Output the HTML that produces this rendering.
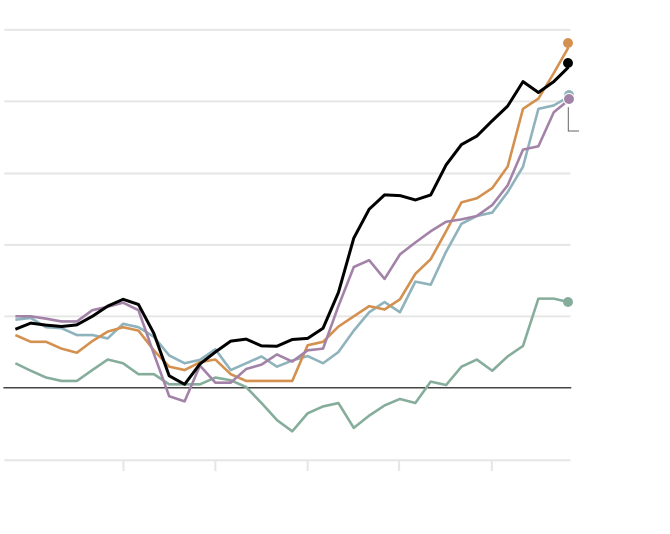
<!DOCTYPE html><html><head><style>html,body{margin:0;padding:0;background:#fff;width:670px;height:534px;overflow:hidden}</style></head><body>
<svg width="670" height="534" viewBox="0 0 1568 1570" preserveAspectRatio="none" xmlns="http://www.w3.org/2000/svg">
<g stroke="#e6e6e6" stroke-width="2" fill="none">
<line x1="10" x2="1335" y1="88" y2="88" vector-effect="non-scaling-stroke"/>
<line x1="10" x2="1335" y1="298" y2="298" vector-effect="non-scaling-stroke"/>
<line x1="10" x2="1335" y1="510" y2="510" vector-effect="non-scaling-stroke"/>
<line x1="10" x2="1335" y1="720" y2="720" vector-effect="non-scaling-stroke"/>
<line x1="10" x2="1335" y1="930" y2="930" vector-effect="non-scaling-stroke"/>
<line x1="10" x2="1335" y1="1353" y2="1353" vector-effect="non-scaling-stroke"/>
<line x1="289" x2="289" y1="1353" y2="1385" vector-effect="non-scaling-stroke"/>
<line x1="504" x2="504" y1="1353" y2="1385" vector-effect="non-scaling-stroke"/>
<line x1="720" x2="720" y1="1353" y2="1385" vector-effect="non-scaling-stroke"/>
<line x1="934" x2="934" y1="1353" y2="1385" vector-effect="non-scaling-stroke"/>
<line x1="1151" x2="1151" y1="1353" y2="1385" vector-effect="non-scaling-stroke"/>
</g>
<line x1="8" x2="1337" y1="1140" y2="1140" stroke="#444" stroke-width="1.5" vector-effect="non-scaling-stroke"/>
<polyline fill="none" stroke="#666" stroke-width="1" vector-effect="non-scaling-stroke" points="1330,315 1330,385 1355,385"/>
<g fill="none" stroke-width="2.6" stroke-linejoin="round">
<polyline vector-effect="non-scaling-stroke" stroke="#86ad9b" points="36,1068 72,1090 108,1110 144,1120 180,1120 216,1088 252,1057 288,1068 324,1100 360,1100 396,1130 432,1130 468,1130 504,1110 540,1118 576,1138 612,1185 648,1235 684,1268 720,1215 756,1195 792,1185 828,1258 864,1222 900,1192 936,1173 972,1185 1008,1122 1044,1132 1080,1078 1116,1057 1152,1090 1188,1048 1224,1017 1260,878 1296,878 1330,888"/>
<polyline vector-effect="non-scaling-stroke" stroke="#8fb3bd" points="36,940 72,935 108,962 144,965 180,985 216,985 252,995 288,952 324,962 360,990 396,1045 432,1068 468,1058 504,1027 540,1088 576,1068 612,1048 648,1078 684,1060 720,1047 756,1068 792,1035 828,972 864,918 900,888 936,918 972,828 1008,837 1044,740 1080,658 1116,635 1152,625 1188,565 1224,490 1260,320 1296,310 1330,285"/>
<polyline vector-effect="non-scaling-stroke" stroke="#d4904f" points="36,985 72,1005 108,1005 144,1025 180,1037 216,1003 252,975 288,962 324,972 360,1030 396,1078 432,1088 468,1065 504,1057 540,1100 576,1120 612,1120 648,1120 684,1120 720,1015 756,1005 792,960 828,930 864,900 900,910 936,880 972,805 1008,762 1044,680 1080,595 1116,583 1152,553 1188,490 1224,320 1260,290 1296,215 1330,140"/>
<polyline vector-effect="non-scaling-stroke" stroke="#a382a8" points="36,930 72,930 108,937 144,945 180,945 216,912 252,902 288,890 324,912 360,1040 396,1165 432,1180 468,1075 504,1125 540,1125 576,1085 612,1072 648,1042 684,1063 720,1030 756,1025 792,900 828,785 864,765 900,820 936,748 972,713 1008,680 1044,652 1080,645 1116,635 1152,603 1188,545 1224,440 1260,430 1296,330 1330,295"/>
<polyline vector-effect="non-scaling-stroke" stroke="#000" stroke-width="3" points="36,968 72,950 108,956 144,960 180,955 216,930 252,900 288,880 324,895 360,980 396,1105 432,1130 468,1070 504,1035 540,1003 576,997 612,1017 648,1018 684,998 720,995 756,965 792,860 828,700 864,615 900,573 936,575 972,588 1008,573 1044,485 1080,425 1116,400 1152,355 1188,312 1224,240 1260,272 1296,240 1330,198"/>
</g>
</svg>
<div style="position:absolute;left:0;top:0;width:670px;height:534px;pointer-events:none">
<div style="position:absolute;left:563px;top:89px;width:10px;height:10px;border-radius:50%;background:#8fb3bd;border:1px solid #fff"></div>
<div style="position:absolute;left:563px;top:93px;width:10px;height:10px;border-radius:50%;background:#a382a8;border:1px solid #fff"></div>
<div style="position:absolute;left:563px;top:38px;width:10px;height:10px;border-radius:50%;background:#d4904f"></div>
<div style="position:absolute;left:563px;top:58px;width:10px;height:10px;border-radius:50%;background:#000"></div>
<div style="position:absolute;left:563px;top:297px;width:10px;height:10px;border-radius:50%;background:#86ad9b"></div>
</div>
</body></html>
